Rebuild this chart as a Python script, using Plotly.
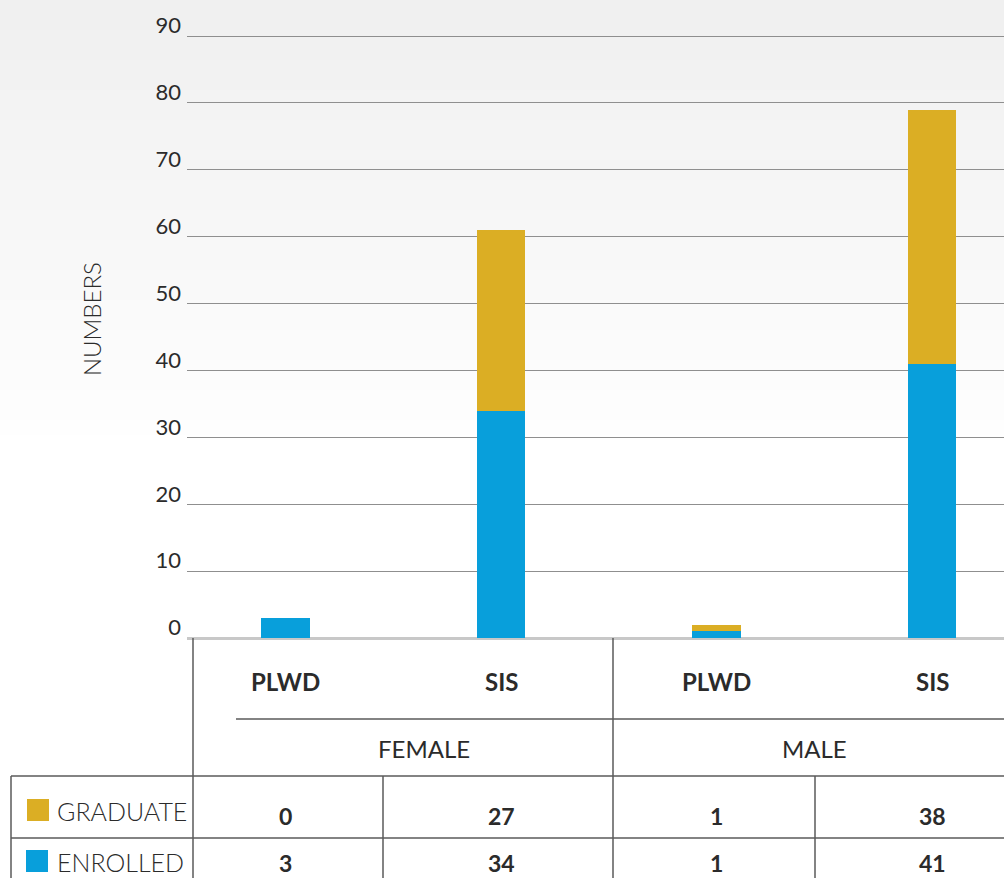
import plotly.graph_objects as go

# ---- data ----
genders = ["FEMALE", "MALE"]
groups = ["PLWD", "SIS", "PLWD", "SIS"]
gender_of_group = ["FEMALE", "FEMALE", "MALE", "MALE"]
enrolled = [3, 34, 1, 41]
graduate = [0, 27, 1, 38]
series_names = ["GRADUATE", "ENROLLED"]
y_ticks = [0, 10, 20, 30, 40, 50, 60, 70, 80, 90]

GOLD = "#DBAE24"
BLUE = "#089FDB"
TXT = "#2b2b2b"
LINE = "#5a5a5a"
FONT = "Lato"

W, H = 1004, 878
ML, MR, MT, MB = 187, 0, 34, 240
PW, PH = W - ML - MR, H - MT - MB
YMAX = 90.3


def px(p):  # pixel x -> paper
    return (p - ML) / PW


def py(p):  # pixel y -> paper
    return (H - MB - p) / PH


xs = list(range(len(groups)))

fig = go.Figure()
fig.add_trace(go.Bar(x=xs, y=enrolled, name="ENROLLED", marker=dict(color=BLUE, line=dict(width=0)),
                     width=0.227, showlegend=False))
fig.add_trace(go.Bar(x=xs, y=graduate, name="GRADUATE", marker=dict(color=GOLD, line=dict(width=0)),
                     width=0.227, showlegend=False))

shapes = []
# background gradient bands
n = 30
for i in range(n):
    g = int(0xf0 + (0xff - 0xf0) * i / (n - 1))
    col = f"rgb({g},{g},{g})"
    shapes.append(dict(type="rect", xref="paper", yref="paper", layer="below",
                       x0=px(0), x1=px(W), y0=py(i * 15 + 15), y1=py(i * 15),
                       fillcolor=col, line=dict(width=0)))


def hline(y, x0, x1, color=LINE, w=1.5):
    shapes.append(dict(type="line", xref="paper", yref="paper", x0=px(x0), x1=px(x1),
                       y0=py(y), y1=py(y), line=dict(color=color, width=w)))


def vline(x, y0, y1, color=LINE, w=1.5):
    shapes.append(dict(type="line", xref="paper", yref="paper", x0=px(x), x1=px(x),
                       y0=py(y0), y1=py(y1), line=dict(color=color, width=w)))


vline(193, 638, 880)
vline(613, 638, 880)
hline(719, 236, 1010)
hline(776, 11, 1010)
hline(838, 11, 1010)
vline(11, 776, 880)
vline(383, 776, 880)
vline(815, 776, 880)

# legend squares
shapes.append(dict(type="rect", xref="paper", yref="paper", x0=px(27), x1=px(49), y0=py(821), y1=py(799),
                   fillcolor=GOLD, line=dict(width=0)))
shapes.append(dict(type="rect", xref="paper", yref="paper", x0=px(26), x1=px(48), y0=py(872), y1=py(850),
                   fillcolor=BLUE, line=dict(width=0)))

ann = []
# category labels
for i, g in enumerate(groups):
    ann.append(dict(x=xs[i], xref="x", y=py(681), yref="paper", text=g, showarrow=False,
                    font=dict(family=FONT, size=24, color=TXT, weight="bold"), xanchor="center", yanchor="middle"))
# gender labels
gender_px = {"FEMALE": 424, "MALE": 814}
for gname in genders:
    ann.append(dict(x=px(gender_px[gname]), xref="paper", y=py(748), yref="paper", text=gname, showarrow=False,
                    font=dict(family=FONT, size=24, color=TXT, weight=400), xanchor="center", yanchor="middle"))
# series labels in table
row_y = {"GRADUATE": 811, "ENROLLED": 862}
for s in series_names:
    ann.append(dict(x=px(55), xref="paper", y=py(row_y[s]), yref="paper", text=s, showarrow=False,
                    font=dict(family=FONT, size=25, color=TXT, weight=300), xanchor="left", yanchor="middle"))
# table values
for i in xs:
    ann.append(dict(x=i, xref="x", y=py(816), yref="paper", text=str(graduate[i]), showarrow=False,
                    font=dict(family=FONT, size=23, color=TXT, weight="bold"), xanchor="center", yanchor="middle"))
    ann.append(dict(x=i, xref="x", y=py(863), yref="paper", text=str(enrolled[i]), showarrow=False,
                    font=dict(family=FONT, size=23, color=TXT, weight="bold"), xanchor="center", yanchor="middle"))
# axis title
ann.append(dict(x=px(91), xref="paper", y=py(319), yref="paper", text="NUMBERS", textangle=-90, showarrow=False,
                font=dict(family=FONT, size=24, color=TXT, weight=300), xanchor="center", yanchor="middle"))

fig.update_layout(
    width=W, height=H,
    margin=dict(l=ML, r=MR, t=MT, b=MB, pad=0),
    barmode="stack",
    paper_bgcolor="white",
    plot_bgcolor="rgba(0,0,0,0)",
    showlegend=False,
    shapes=shapes,
    annotations=ann,
    xaxis=dict(range=[-0.457, 3.334], showticklabels=False, showgrid=False, zeroline=False,
               showline=False, ticks="", fixedrange=True),
    yaxis=dict(range=[0, YMAX], tickvals=y_ticks, showgrid=True, gridcolor="#8f8f8f", gridwidth=1,
               zeroline=True, zerolinecolor="#c8c8c8", zerolinewidth=2.5,
               ticklabelposition="outside top", ticklabelstandoff=5, ticklabelshift=5,
               ticklabeloverflow="allow",
               tickfont=dict(family=FONT, size=22, color=TXT, weight=400),
               showline=False, ticks=""),
)

fig.write_html("out.html", post_script="document.body.style.margin='0';",
               config={"displayModeBar": False})
